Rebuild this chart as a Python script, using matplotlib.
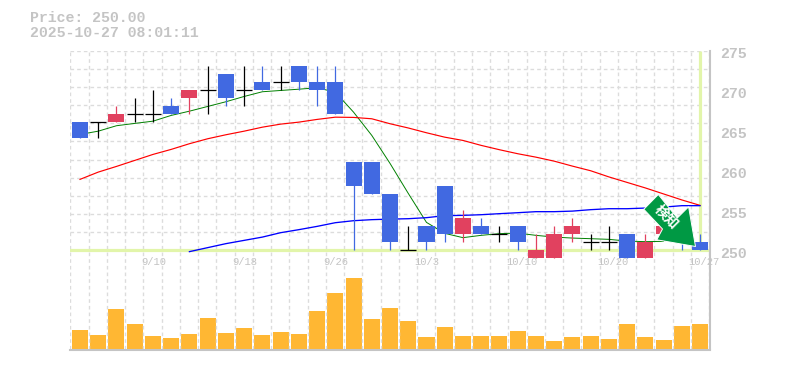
import numpy as np
import matplotlib
matplotlib.use("Agg")
import matplotlib.pyplot as plt
from matplotlib.patches import Polygon
from matplotlib.transforms import IdentityTransform, ScaledTranslation


opens = [266, 266, 266, 267, 267, 268, 269, 270, 272, 270, 271, 271, 273, 271, 271, 261, 261, 257,
         250, 253, 258, 252, 253, 252, 253, 249, 249, 252, 251, 251, 252, 249, 252, 253, 251]
closes = [264, 266, 267, 267, 267, 267, 270, 270, 269, 270, 270, 271, 271, 270, 267, 258, 257, 251,
          250, 251, 252, 254, 252, 252, 251, 250, 252, 253, 251, 251, 249, 251, 253, 251, 250]
highs = [266, 266, 268, 269, 270, 269, 270, 273, 272, 273, 273, 273, 273, 273, 273, 261, 261, 257,
         253, 253, 258, 255, 254, 253, 253, 252, 253, 254, 252, 253, 252, 252, 253, 253, 252]
lows = [264, 264, 266, 266, 266, 267, 267, 267, 268, 268, 270, 270, 270, 268, 267, 250, 257, 250,
        250, 250, 251, 251, 252, 251, 250, 249, 249, 251, 250, 250, 249, 249, 252, 250, 250]
volumes = [19, 14, 40, 25, 13, 11, 15, 31, 16, 21, 14, 17, 15, 38, 56, 71, 30, 41,
           28, 12, 22, 13, 13, 13, 18, 13, 8, 12, 13, 10, 25, 12, 9, 23, 25]

ma_green = [264.5, 264.91, 265.59, 265.88, 266.16, 266.88, 267.41, 268.0, 268.59, 269.25, 269.84,
            270.0, 270.16, 270.34, 269.79, 267.29, 264.38, 260.88, 257.13, 253.5, 252.13, 251.59,
            251.88, 252.09, 252.16, 251.88, 251.66, 251.54, 251.46, 251.38, 251.16, 251.09, 251.13]
ma_red = [258.88, 259.79, 260.5, 261.25, 262.0, 262.63, 263.34, 263.96, 264.46, 264.91, 265.41,
          265.79, 266.04, 266.38, 266.66, 266.63, 266.46, 265.84, 265.31, 264.71, 264.16, 263.75,
          263.13, 262.59, 262.09, 261.66, 261.16, 260.54, 259.96, 259.19, 258.5, 257.81, 257.06,
          256.31, 255.63]
ma_blue = [249.84, 250.34, 250.84, 251.25, 251.66, 252.21, 252.59, 253.0, 253.46, 253.71, 253.84,
           253.91, 253.96, 254.09, 254.34, 254.38, 254.46, 254.59, 254.71, 254.84, 254.84, 254.91,
           255.09, 255.21, 255.21, 255.29, 255.41, 255.59, 255.59]
ma_blue_start = 6

date_idx = [4, 9, 14, 19, 24, 29, 34]
date_labels = ["9/10", "9/18", "9/26", "10/3", "10/10", "10/20", "10/27"]
price_ticks = [250, 255, 260, 265, 270, 275]

last_price = 250
WIDTH = 785
HEIGHT = 370
GRAY = "#c4c4c4"
BLUE = "#4169e1"
RED = "#e1415f"
ORANGE = "#ffb733"
HILITE = "#e2f5aa"
GRID = "#dcdcdc"
MONO = "Liberation Mono"

fig = plt.figure(figsize=(WIDTH / 100, HEIGHT / 100), dpi=100)
ax = fig.add_axes([70.3 / WIDTH, 20.5 / HEIGHT, 639.2 / WIDTH, 299 / HEIGHT])
ax.set_xlim(-0.532, 34.52)
ax.set_ylim(237.6, 275)

for side in ["left", "top"]:
    ax.spines[side].set_visible(False)
for side in ["right", "bottom"]:
    ax.spines[side].set_color(GRAY)
    ax.spines[side].set_linewidth(1.5)
    ax.spines[side].set_zorder(6)

grid_style = dict(color=GRID, linewidth=1.0, linestyle=(0, (2.6, 2.2)), zorder=1)
ax.vlines(np.arange(36) * 1.0007 - 0.532, 237.6, 275, **grid_style)
ax.hlines(np.linspace(250, 275, 12), -0.532, 34.52, **grid_style)

ax.axhline(last_price, color=HILITE, linewidth=2.3, zorder=2)
ax.vlines(len(opens) - 1, last_price, 275, color=HILITE, linewidth=2.3, zorder=2)

x = np.arange(len(opens))
ax.plot(x[:len(ma_green)], ma_green, color="#008000", linewidth=0.7, zorder=3)
ax.plot(x, ma_red, color="#ff0000", linewidth=0.85, zorder=3)
ax.plot(x[ma_blue_start:], ma_blue, color="#0000ff", linewidth=0.95, zorder=3)

for i in x:
    o, c, h, l = opens[i], closes[i], highs[i], lows[i]
    col = "black" if o == c else (RED if c > o else BLUE)
    ax.vlines(i, l, h, color=col, linewidth=0.9, zorder=4)
    if o == c:
        ax.hlines(o, i - 0.44, i + 0.44, color=col, linewidth=0.9, zorder=4)
    else:
        ax.bar(i, abs(c - o), width=0.88, bottom=min(o, c), color=col, zorder=4)

vol_ax = ax.twinx()
vol_ax.set_ylim(-1, 298)
vol_ax.bar(x, volumes, width=0.88, color=ORANGE, zorder=4)
vol_ax.axis("off")

shift = ScaledTranslation(2 / 100, -2.5 / 100, fig.dpi_scale_trans)
ax.yaxis.tick_right()
ax.set_yticks(price_ticks)
ax.tick_params(axis="y", length=0, pad=6, labelsize=10.7, labelcolor=GRAY)
for lab in ax.get_yticklabels():
    lab.set_fontfamily(MONO)
    lab.set_fontweight("bold")
    lab.set_transform(lab.get_transform() + shift)
ax.set_xticks([])

for idx, lab in zip(date_idx, date_labels):
    ax.annotate(lab, (idx, last_price), xytext=(0.5 if len(lab) < 5 else 3, -8.5), textcoords="offset points",
                ha="center", va="center", fontsize=7.6, family=MONO, color=GRAY, zorder=5)

fig.text(30 / WIDTH, 1 - 18 / HEIGHT, "Price: 250.00", fontsize=10.7, family=MONO, fontweight="bold", color=GRAY, va="center")
fig.text(30 / WIDTH, 1 - 33 / HEIGHT, "2025-10-27 08:01:11", fontsize=10.7, family=MONO, fontweight="bold", color=GRAY, va="center")

# marker arrow, placed in screen pixels (y flipped from image coords)
arrow_px = [(658.3, 194.5), (643.8, 209.3), (662.5, 229), (656.8, 239.8), (695.5, 246.5), (688.6, 206.8), (677.3, 218)]
arrow_xy = [(px, HEIGHT - py) for px, py in arrow_px]
arrow = Polygon(arrow_xy, closed=True, facecolor="#009944", edgecolor="white", linewidth=0.7,
                joinstyle="round", transform=IdentityTransform(), zorder=8, clip_on=False)
ax.add_patch(arrow)
vol_ax.set_zorder(ax.get_zorder() - 1)
ax.patch.set_visible(False)
fig.text(666.5 / WIDTH, 1 - 217.5 / HEIGHT, "検知", rotation=-45, rotation_mode="anchor", ha="center", va="center",
         fontsize=10, fontweight="bold", family=["Noto Sans CJK JP", "DejaVu Sans"], color="white", zorder=9)

fig.savefig("out.png", dpi=100)
